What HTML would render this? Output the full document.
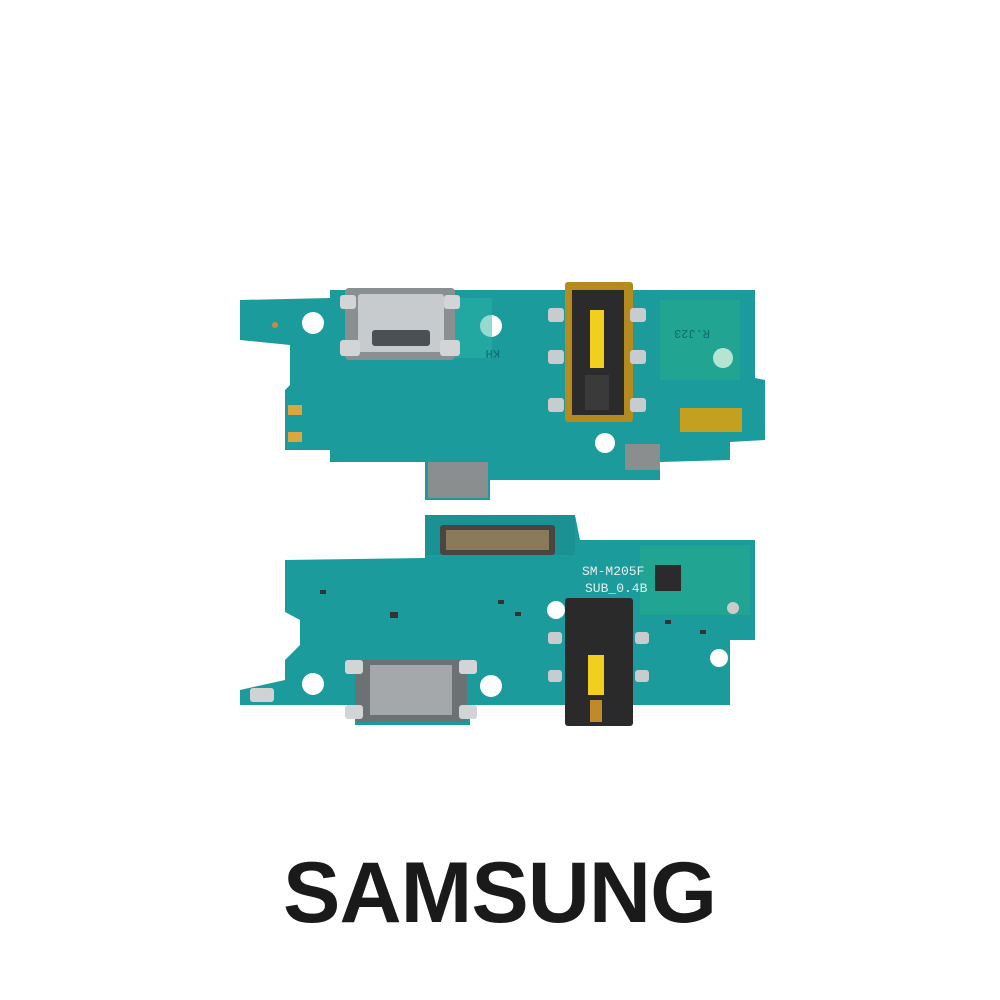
<!DOCTYPE html>
<html><head><meta charset="utf-8"><style>
html,body{margin:0;padding:0;background:#fff;width:1000px;height:1000px;overflow:hidden}
</style></head><body>
<svg width="1000" height="1000" viewBox="0 0 1000 1000" xmlns="http://www.w3.org/2000/svg">
<rect width="1000" height="1000" fill="#fff"/>
<!-- TOP BOARD -->
<path d="M240 300 L330 298 L330 290 L755 290 L755 378 L765 380 L765 440 L730 442 L730 460 L660 462 L660 480 L490 480 L490 500 L425 500 L425 462 L330 462 L330 450 L285 450 L285 390 L290 385 L290 345 L240 340 Z" fill="#1c9b9c"/>
<circle cx="313" cy="323" r="11" fill="#fff"/>
<circle cx="491" cy="326" r="11" fill="#fff"/>
<circle cx="723" cy="358" r="10" fill="#fff"/>
<circle cx="605" cy="443" r="10" fill="#fff"/>
<circle cx="275" cy="325" r="3" fill="#c98b3a"/>
<rect x="455" y="298" width="37" height="60" fill="#2ab5a5" opacity=".5"/>
<rect x="660" y="300" width="80" height="80" fill="#2ab57f" opacity=".35"/>
<rect x="345" y="288" width="110" height="72" rx="4" fill="#8a8f92"/>
<rect x="358" y="294" width="86" height="58" rx="3" fill="#c7cbce"/>
<rect x="372" y="330" width="58" height="16" rx="3" fill="#4b5054"/>
<rect x="340" y="340" width="20" height="16" rx="3" fill="#d2d4d6"/>
<rect x="440" y="340" width="20" height="16" rx="3" fill="#d2d4d6"/>
<rect x="340" y="295" width="16" height="14" rx="3" fill="#d2d4d6"/>
<rect x="444" y="295" width="16" height="14" rx="3" fill="#d2d4d6"/>
<rect x="565" y="282" width="68" height="140" rx="3" fill="#b58a1f"/>
<rect x="572" y="290" width="52" height="125" fill="#2b2b2b"/>
<rect x="590" y="310" width="14" height="58" fill="#f2cf1f"/>
<rect x="585" y="375" width="24" height="35" fill="#3a3a3a"/>
<g fill="#c9ccce"><rect x="548" y="308" width="16" height="14" rx="3"/><rect x="548" y="350" width="16" height="14" rx="3"/><rect x="548" y="398" width="16" height="14" rx="3"/><rect x="630" y="308" width="16" height="14" rx="3"/><rect x="630" y="350" width="16" height="14" rx="3"/><rect x="630" y="398" width="16" height="14" rx="3"/></g>
<rect x="680" y="408" width="62" height="24" fill="#c4a020"/>
<rect x="428" y="462" width="60" height="36" fill="#8b8e8f"/>
<rect x="625" y="444" width="35" height="26" fill="#8b8e8f"/>
<rect x="288" y="405" width="14" height="10" fill="#d9a640"/>
<rect x="288" y="432" width="14" height="10" fill="#d9a640"/>
<text x="480" y="360" font-family="Liberation Mono,monospace" font-size="12" fill="#0e6d6e" transform="rotate(180 490 355)">KH</text>
<text x="690" y="330" font-family="Liberation Mono,monospace" font-size="12" fill="#0e6d6e" transform="rotate(180 700 330)">R.J23</text>
<!-- BOTTOM BOARD -->
<path d="M425 515 L575 515 L580 540 L755 540 L755 640 L730 640 L730 705 L470 705 L470 725 L355 725 L355 705 L240 705 L240 690 L285 680 L285 660 L300 645 L300 620 L285 612 L285 560 L425 558 Z" fill="#1c9b9c"/>
<path d="M425 515 L575 515 L575 555 L425 555 Z" fill="#1a9293"/>
<rect x="440" y="525" width="115" height="30" rx="3" fill="#4a4540"/>
<rect x="446" y="530" width="103" height="20" fill="#8a7a5a"/>
<rect x="640" y="545" width="110" height="70" fill="#2ab57f" opacity=".35"/>
<circle cx="313" cy="684" r="11" fill="#fff"/>
<circle cx="491" cy="686" r="11" fill="#fff"/>
<circle cx="556" cy="610" r="9" fill="#fff"/>
<circle cx="719" cy="658" r="9" fill="#fff"/>
<rect x="250" y="688" width="24" height="14" rx="3" fill="#d0d2d3"/>
<rect x="355" y="660" width="112" height="62" rx="4" fill="#6c7174"/>
<rect x="370" y="665" width="82" height="50" fill="#a4a8ab"/>
<rect x="345" y="660" width="18" height="14" rx="3" fill="#d2d4d6"/>
<rect x="459" y="660" width="18" height="14" rx="3" fill="#d2d4d6"/>
<rect x="345" y="705" width="18" height="14" rx="3" fill="#d2d4d6"/>
<rect x="459" y="705" width="18" height="14" rx="3" fill="#d2d4d6"/>
<rect x="565" y="598" width="68" height="128" rx="3" fill="#2a2a2a"/>
<rect x="588" y="655" width="16" height="40" fill="#f2cf1f"/>
<rect x="590" y="700" width="12" height="22" fill="#c08a2a"/>
<g fill="#c9ccce"><rect x="548" y="632" width="14" height="12" rx="3"/><rect x="548" y="670" width="14" height="12" rx="3"/><rect x="635" y="632" width="14" height="12" rx="3"/><rect x="635" y="670" width="14" height="12" rx="3"/></g>
<rect x="655" y="565" width="26" height="26" fill="#2b2b2b"/>
<g fill="#333"><rect x="498" y="600" width="6" height="4"/><rect x="515" y="612" width="6" height="4"/><rect x="320" y="590" width="6" height="4"/><rect x="390" y="612" width="8" height="6"/><rect x="700" y="630" width="6" height="4"/><rect x="665" y="620" width="6" height="4"/></g>
<circle cx="733" cy="608" r="6" fill="#ccc"/>
<text x="582" y="575" font-family="Liberation Mono,monospace" font-size="13" fill="#e8eeee">SM-M205F</text>
<text x="585" y="592" font-family="Liberation Mono,monospace" font-size="13" fill="#e8eeee">SUB_0.4B</text>
<text x="283" y="922" font-family="Liberation Sans,Arial,sans-serif" font-weight="bold" font-size="86" fill="#1a1a1a" textLength="434" lengthAdjust="spacing">SAMSUNG</text>
</svg>
</body></html>
